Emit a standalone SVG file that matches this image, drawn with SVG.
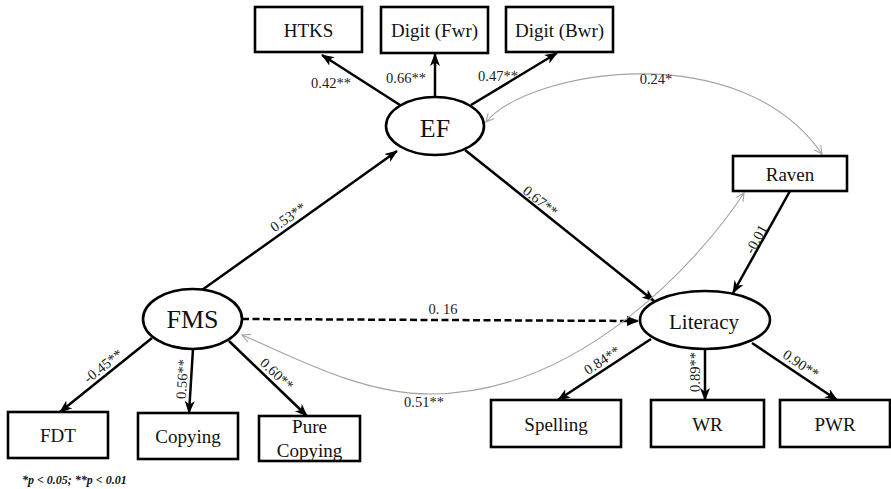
<svg xmlns="http://www.w3.org/2000/svg" width="891" height="489" viewBox="0 0 891 489">
  <style>
    .box { fill: #fff; stroke: #000; stroke-width: 2.6; }
    .lat { fill: #fff; stroke: #000; stroke-width: 2.6; }
    text { font-family: 'Liberation Serif', 'DejaVu Serif', serif; }
    .lbl { font-size: 19px; fill: #111; text-anchor: middle; }
    .big { font-size: 26px; fill: #111; text-anchor: middle; }
    .coef { font-size: 14.5px; fill: #222; text-anchor: middle; }
    .path { fill: none; stroke: #000; stroke-width: 2.5; marker-end: url(#head); }
    .dash { fill: none; stroke: #000; stroke-width: 2.5; stroke-dasharray: 7 3.5; marker-end: url(#headDash); }
    .cov { fill: none; stroke: #a3a3a3; stroke-width: 1.1; marker-start: url(#open); marker-end: url(#open); }
    .note { font-size: 12px; font-weight: bold; font-style: italic; fill: #111; }
  </style>
  <defs>
    <marker id="head" markerUnits="userSpaceOnUse" markerWidth="14" markerHeight="12" refX="12" refY="5" orient="auto">
      <path d="M0,0 L13,5 L0,10 L3.5,5 Z" fill="#000"/>
    </marker>
    <marker id="headDash" markerUnits="userSpaceOnUse" markerWidth="14" markerHeight="12" refX="11" refY="5" orient="auto">
      <path d="M0,0 L12,5 L0,10 Z" fill="#000"/>
    </marker>
    <marker id="open" markerUnits="userSpaceOnUse" markerWidth="12" markerHeight="12" refX="9" refY="5" orient="auto-start-reverse">
      <path d="M1,1 L9,5 L1,9" fill="none" stroke="#a3a3a3" stroke-width="1.1"/>
    </marker>
  </defs>

  <!-- connectors -->
  <g id="connectors">
    <path class="path" d="M400,105 L322,55"/>
    <path class="path" d="M435,97 L435,54"/>
    <path class="path" d="M471,105 L557,53"/>
    <path class="path" d="M202,290 L397,151"/>
    <path class="path" d="M465,150 L654,301"/>
    <path class="dash" d="M242,319 L638,321"/>
    <path class="path" d="M790,191 L733,293"/>
    <path class="path" d="M651,339 L558,400"/>
    <path class="path" d="M705,349 L705,400"/>
    <path class="path" d="M752,343 L837,400"/>
    <path class="path" d="M152,338 L60,412"/>
    <path class="path" d="M193,349 L189,413"/>
    <path class="path" d="M229,341 L307,416"/>
    <path class="cov" d="M486,122 C530,70 740,35 822,154"/>
    <path class="cov" d="M242,335 C290,355 360,394 430,394 C580,394 700,260 744,193"/>

    <text class="coef" x="331" y="88">0.42**</text>
    <text class="coef" x="406" y="82.5">0.66**</text>
    <text class="coef" x="498" y="81">0.47**</text>
    <text class="coef" x="656" y="83.5">0.24*</text>
    <text class="coef" x="443" y="313.5">0. 16</text>
    <text class="coef" x="424" y="406.5">0.51**</text>
    <text class="coef" transform="translate(288,217) rotate(-35.1)" y="5">0.53**</text>
    <text class="coef" transform="translate(540.5,201) rotate(38.6)" y="5">0.67**</text>
    <text class="coef" transform="translate(756,239) rotate(-61)" y="5">-0.01</text>
    <text class="coef" transform="translate(103,366) rotate(-38.4)" y="5">-0.45**</text>
    <text class="coef" transform="translate(182,379) rotate(-86.4)" y="5">0.56**</text>
    <text class="coef" transform="translate(277,374) rotate(43.5)" y="5">0.60**</text>
    <text class="coef" transform="translate(602,360) rotate(-33.3)" y="5">0.84**</text>
    <text class="coef" transform="translate(694.5,372) rotate(-90)" y="5">0.89**</text>
    <text class="coef" transform="translate(801,364) rotate(33.8)" y="5">0.90**</text>
  </g>

  <!-- observed indicators -->
  <g id="htks"><rect class="box" x="255" y="7" width="107" height="45"/><text class="lbl" x="308.5" y="36.5">HTKS</text></g>
  <g id="digit-fwr"><rect class="box" x="381" y="7" width="107" height="46"/><text class="lbl" x="434.5" y="36.5">Digit (Fwr)</text></g>
  <g id="digit-bwr"><rect class="box" x="506" y="7" width="107" height="45"/><text class="lbl" x="559.5" y="36.5">Digit (Bwr)</text></g>
  <g id="raven"><rect class="box" x="733" y="156" width="114" height="35"/><text class="lbl" x="790" y="180.5">Raven</text></g>
  <g id="fdt"><rect class="box" x="8" y="412" width="100" height="46"/><text class="lbl" x="58" y="442">FDT</text></g>
  <g id="copying"><rect class="box" x="138" y="413" width="100" height="46"/><text class="lbl" x="188" y="443">Copying</text></g>
  <g id="pure-copying"><rect class="box" x="259" y="416" width="101" height="45"/><text class="lbl" x="309.5" y="433">Pure</text><text class="lbl" x="309.5" y="457">Copying</text></g>
  <g id="spelling"><rect class="box" x="491" y="400" width="130" height="47"/><text class="lbl" x="556" y="431">Spelling</text></g>
  <g id="wr"><rect class="box" x="651" y="400" width="113" height="47"/><text class="lbl" x="707.5" y="431">WR</text></g>
  <g id="pwr"><rect class="box" x="780" y="400" width="110" height="47"/><text class="lbl" x="835" y="431">PWR</text></g>

  <!-- latent constructs -->
  <g id="ef"><ellipse class="lat" cx="435" cy="126" rx="49" ry="29"/><text class="big" x="435" y="136.5">EF</text></g>
  <g id="fms"><ellipse class="lat" cx="192.5" cy="319" rx="49.5" ry="30"/><text class="big" x="192.5" y="328">FMS</text></g>
  <g id="literacy"><ellipse class="lat" cx="705" cy="320" rx="65" ry="29"/><text class="lbl" x="704" y="328.5" style="font-size:21px">Literacy</text></g>

  <text class="note" x="22" y="484">*p &lt; 0.05; **p &lt; 0.01</text>
</svg>
